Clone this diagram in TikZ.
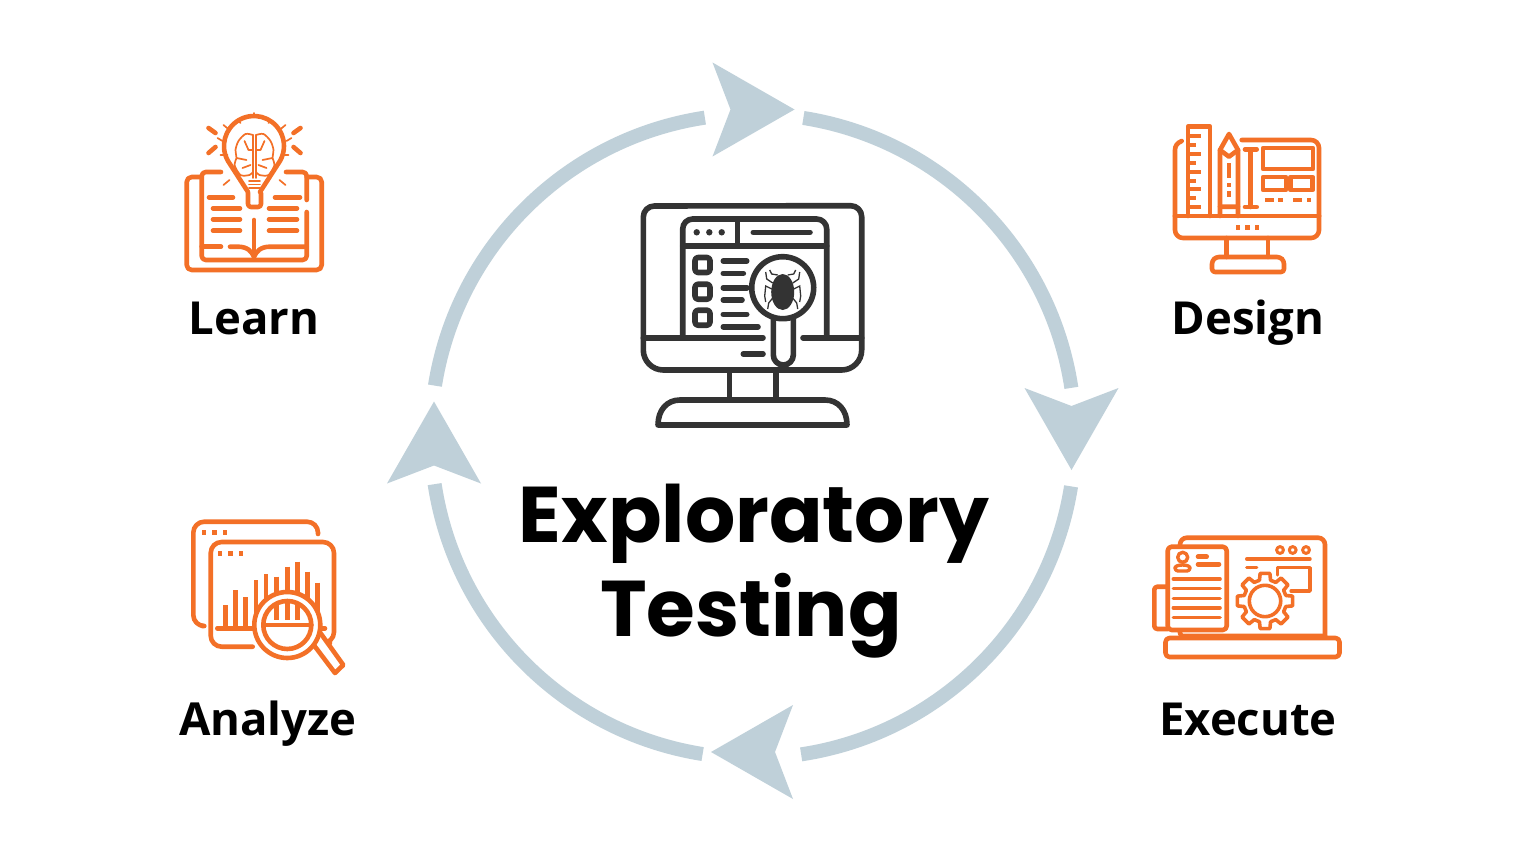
\documentclass[tikz,border=0pt]{standalone}
\usepackage{fontspec}
\setmainfont{Open Sans}
\newfontfamily\titlefont{Poppins}
\usepackage{xcolor}
\definecolor{iconorange}{HTML}{F37027}
\definecolor{ringblue}{HTML}{BFD0D9}
\definecolor{screendark}{HTML}{333333}
\tikzset{
    iconline/.style={draw=iconorange, line width=4.6pt, line cap=round, line join=round},
    iconthin/.style={draw=iconorange, line width=1.7pt, line cap=round, line join=round},
    screenline/.style={draw=screendark, line width=5.6pt, line cap=round, line join=round},
    cyclearc/.style={draw=ringblue, line width=14pt},
    steplabel/.style={anchor=base, inner sep=0pt, font=\fontsize{45.5}{50}\selectfont\bfseries, text=black},
    titlelabel/.style={anchor=base, inner sep=0pt, font=\fontsize{79}{90}\selectfont\titlefont\bfseries, text=black},
    cyclehead/.pic={\fill[ringblue] (-41,-47) -- (41,0) -- (-41,47) -- (-23,0) -- cycle;}
}
\begin{document}
\begin{tikzpicture}[x=1pt, y=-1pt]

    \useasboundingbox (0,0) rectangle (1536,864);
    \fill[white] (0,0) rectangle (1536,864);

    \coordinate (hub) at (753,436);
    \foreach \a in {0,90,180,270}
        \draw[cyclearc] (hub) ++(\a-81:322) arc[start angle=\a-81, end angle=\a-8.6, radius=322];
    \foreach \x/\y/\r in {753.5/109.5/0, 1071.5/429/-90, 752/752/180, 434/442.5/90}
        \pic[rotate=\r] at (\x,\y) {cyclehead};

    \node[titlelabel] (titletop) at (754,542) {Exploratory};
    \node[titlelabel] (titlebottom) at (751,636) {Testing};
    \node[steplabel] (learn) at (254,334) {Learn};
    \node[steplabel] (design) at (1248,334) {Design};
    \node[steplabel] (analyze) at (268,735) {Analyze};
    \node[steplabel] (execute) at (1248,735) {Execute};

    % monitor in the middle
    \draw[screenline] (643.3,350) -- (643.3,217) arc[start angle=180, end angle=270, radius=11] -- (850.7,205.7) arc[start angle=270, end angle=360, radius=11]
        -- (861.7,350) arc[start angle=0, end angle=90, radius=20] -- (663.3,370) arc[start angle=90, end angle=180, radius=20] -- cycle;
    \draw[screenline] (729.3,370) -- (729.3,400) (776,370) -- (776,400);
    \draw[screenline] (658,425) -- (847,425) .. controls (847,410) and (838,400) .. (825,400) -- (680,400) .. controls (667,400) and (658,410) .. (658,425) -- cycle;
    \draw[screenline, rounded corners=10pt] (682.7,337.7) -- (682.7,219) -- (826.7,219) -- (826.7,337.7);
    \draw[screenline] (643.3,337.7) -- (763,337.7) (803,337.7) -- (861.7,337.7);
    \draw[screenline] (682.7,245.7) -- (826.7,245.7) (737.3,219) -- (737.3,245.7) (753.3,232.3) -- (810,232.3) (743.3,354) -- (763,354);
    \foreach \x in {696.7,709.3,721.7}
        \fill[screendark] (\x,232.3) circle[radius=3.2];
    \foreach \y in {265,291.7,317.7}
        \draw[screenline, rounded corners=3pt] (695,\y-7.5) rectangle (710,\y+7.5);
    \foreach \y/\e in {261/746.7, 273.3/743.3, 287.7/747, 300/742, 314.3/746.7, 326.7/758}
        \draw[screenline] (723.3,\y) -- (\e,\y);
    \draw[screenline, fill=white] (773.3,318) -- (773.3,355) arc[start angle=180, end angle=0, radius=10] -- (793.3,318);
    \draw[screenline, fill=white] (782.7,287.7) circle[radius=31];
    \fill[screendark] (782.7,292) ellipse[x radius=11.5, y radius=18];
    \foreach \s in {1,-1} {
        \begin{scope}[shift={(782.7,0)}, xscale=\s]
            \draw[screendark, line width=1.3pt] (5,275) -- (11,274) -- (13,270);
            \draw[screendark, line width=1.3pt] (10,283) -- (16,279) -- (17,272);
            \draw[screendark, line width=1.3pt] (11,289) -- (17,286) -- (18,296) -- (17,302);
            \draw[screendark, line width=1.3pt] (10,298) -- (14,303) -- (15,309);
        \end{scope}
    }

    % learn
    \draw[iconline, rounded corners=5pt] (201.7,177) -- (186.7,177) -- (186.7,270) -- (321.7,270) -- (321.7,177) -- (306.7,177);
    \draw[iconline, rounded corners=4pt] (221,172) -- (201.7,172) -- (201.7,260) -- (306.7,260) -- (306.7,212);
    \draw[iconline, rounded corners=4pt] (306.7,200) -- (306.7,172) -- (286,172);
    \draw[iconline] (201.7,246.7) -- (221,246.7) (254,220) -- (254,257);
    \draw[iconline] (230,246.7) -- (238,246.7) .. controls (248,246.7) and (252,252) .. (254,257)
        .. controls (256,252) and (260,246.7) .. (270,246.7) -- (306.7,246.7);
    \foreach \x/\e/\y in {209/233/197.3, 213/240/208.3, 213/240/219.3, 213/240/230.7, 275/300/197.3, 269/297/208.3, 269/297/219.3, 269/297/230.7}
        \draw[iconline] (\x,\y) -- (\e,\y);
    \draw[iconline, fill=white] (248,192) -- (228,161) arc[start angle=150, end angle=390, radius=30] -- (260,192);
    \draw[iconline, rounded corners=3pt] (248,193) -- (248,207) -- (261,207) -- (261,193);
    \foreach \y in {181,184.5,188}
        \draw[iconthin] (249,\y) -- (260,\y);
    \draw[iconthin] (254,113) -- (254,117);
    \foreach \s in {1,-1} {
        \begin{scope}[shift={(254.5,0)}, xscale=\s]
            \draw[iconline] (-46,128) -- (-39,133) (-46,153) -- (-39,147);
            \draw[iconthin] (-31,125) -- (-25,130) (-37,138) -- (-32,141) (-34,155) -- (-27,155) (-31,185) -- (-25,180) (-16,121) -- (-14,123);
            \draw[iconthin] plot[smooth] coordinates {(-1.5,135) (-9,134) (-16,141) (-19,150) (-18,158) (-20,165) (-14,175) (-5,175) (-1.5,172)};
            \draw[iconthin] (-1.5,135) -- (-1.5,178);
            \draw[iconthin] (-10,141) -- (-6,150) -- (-1.5,150) (-18,158) -- (-8,160) (-12,168) -- (-4,165);
        \end{scope}
    }

    % design
    \draw[iconline] (1181.7,141) .. controls (1177,143) and (1175,146) .. (1175,150) -- (1175,216);
    \draw[iconline, rounded corners=8pt] (1241.7,140) -- (1319,140) -- (1319,216);
    \draw[iconline, rounded corners=8pt] (1175,216) -- (1175,238) -- (1319,238) -- (1319,216);
    \draw[iconline] (1175,216) -- (1319,216) (1226.7,238) -- (1226.7,257) (1268,238) -- (1268,257);
    \draw[iconline, rounded corners=3pt] (1212,272) -- (1212,261) -- (1216,257) -- (1280,257) -- (1284,261) -- (1284,272) -- cycle;
    \foreach \x in {1238,1247.5,1257}
        \fill[iconorange] (\x-2.3,225) rectangle (\x+2.3,229.6);
    \draw[iconline] (1188,216) -- (1188,126.7) -- (1210,126.7) -- (1210,216);
    \foreach \y/\e in {136/1201, 145/1196, 154/1201, 163/1196, 172/1201, 181/1196, 189/1201, 198/1196, 207/1201}
        \draw[iconline, line cap=butt] (1188,\y) -- (\e,\y);
    \draw[iconline] (1220,216) -- (1220,150) -- (1229,134) -- (1238,150) -- (1238,216);
    \draw[iconline] (1220,150) -- (1229,156.7) -- (1238,150) (1220,206.7) -- (1238,206.7);
    \draw[iconline, line cap=butt] (1229,163) -- (1229,178) (1229,183) -- (1229,187) (1229,191) -- (1229,197);
    \draw[iconline] (1245,149.3) -- (1256.7,149.3) (1250.7,149.3) -- (1250.7,207) (1245,207) -- (1256.7,207);
    \draw[iconline] (1263,148) rectangle (1313,169);
    \draw[iconline] (1263,177) rectangle (1286,190);
    \draw[iconline] (1290.7,177) rectangle (1312.7,190);
    \foreach \x/\e in {1265/1274, 1278/1283, 1293/1302, 1307/1311}
        \draw[iconline, line cap=butt] (\x,200) -- (\e,200);

    % analyze
    \draw[iconline, rounded corners=11pt] (318,534) -- (318,521.7) -- (193.3,521.7) -- (193.3,626) -- (202,626);
    \draw[iconline, rounded corners=11pt] (252.7,646.7) -- (210.7,646.7) -- (210.7,542) -- (334,542) -- (334,643) -- (330,643);
    \foreach \x/\y in {204/532.7, 214.3/532.7, 225/532.7, 220/553.3, 230.7/553.3, 241/553.3}
        \fill[iconorange] (\x-2.4,\y-2.4) rectangle (\x+2.4,\y+2.4);
    \draw[iconline] (217.3,628.3) -- (325,628.3);
    \foreach \x/\y in {225.7/605, 235.7/590, 245.7/597.3, 256/580, 266/574, 276.7/576.7, 287.3/566.7, 297.3/561.7, 307.3/571.7, 317.7/582.7}
        \draw[iconline, line cap=butt] (\x,\y) -- (\x,626);
    \draw[iconline, fill=white] (310,640) -- (319,631) -- (343.3,665) -- (335,673) -- cycle;
    \draw[iconline, fill=white] (287.3,625) circle[radius=33];
    \draw[iconline, fill=white] (287.3,625) circle[radius=24];
    \draw[iconline] (263.3,625) -- (311.3,625);
    \foreach \x in {276.7,287.3,297.3}
        \draw[iconline, line cap=butt] (\x,603) -- (\x,620);

    % execute
    \draw[iconline, rounded corners=7pt] (1180,548) -- (1180,537.7) -- (1325,537.7) -- (1325,636);
    \draw[iconline, rounded corners=3pt] (1180,630) -- (1180,636) -- (1325,636);
    \draw[iconline, rounded corners=4pt] (1165.5,638) rectangle (1339.5,657);
    \draw[iconline, fill=white, rounded corners=4pt] (1167.7,546.7) rectangle (1226.7,630);
    \draw[iconline, rounded corners=3pt] (1167.7,586.7) -- (1154.3,586.7) -- (1154.3,629) -- (1167.7,629);
    \draw[iconthin, line width=3.4pt] (1182.7,557.3) circle[radius=5];
    \draw[iconthin, line width=3.4pt, rounded corners=3pt] (1175,571) .. controls (1175,564) and (1190,564) .. (1190,571) -- cycle;
    \draw[iconline] (1198,556.7) -- (1206.7,556.7) (1198,564.3) -- (1219,564.3);
    \foreach \y in {579,588.3,598.3,607.7,617.3}
        \draw[iconthin, line width=3.6pt] (1173.3,\y) -- (1220,\y);
    \foreach \x in {1280,1292.7,1306}
        \draw[iconthin, line width=3pt] (\x,550) circle[radius=3.4];
    \draw[iconthin, line width=3.4pt] (1246.7,559) -- (1310,559) (1246.7,567.7) -- (1256.7,567.7);
    \draw[iconthin, line width=3.4pt] (1277.7,575) -- (1277.7,567.7) -- (1310,567.7) -- (1310,591) -- (1291,591);
    \foreach \a in {0,45,...,315}
        \draw[iconthin, line width=3.6pt, shift={(1265,601)}] (\a-15:21.5) -- (\a-10:28) -- (\a+10:28) -- (\a+15:21.5) arc[start angle=\a+15, end angle=\a+30, radius=21.5];
    \draw[iconthin, line width=3.6pt] (1265,601) circle[radius=15.7];

\end{tikzpicture}
\end{document}
